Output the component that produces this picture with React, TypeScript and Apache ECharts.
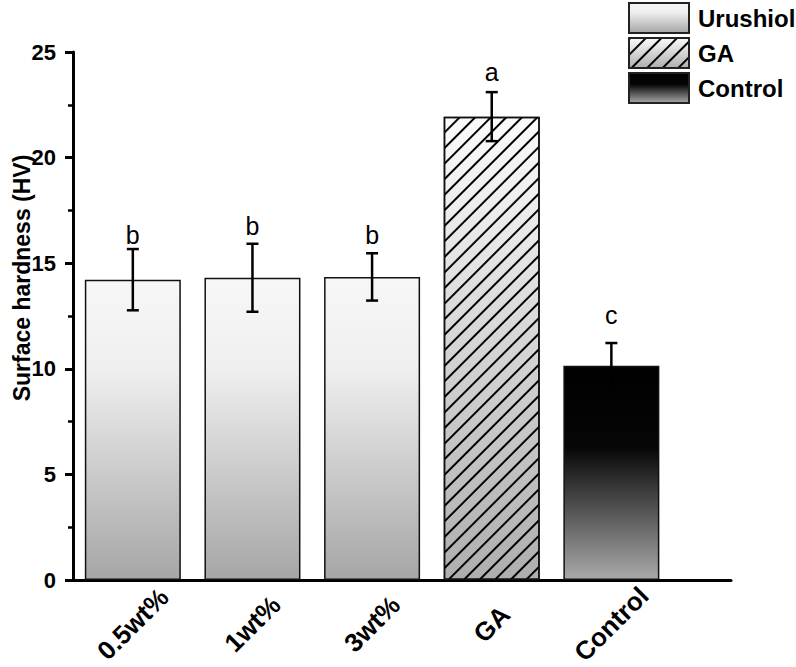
import React, { useEffect, useRef } from 'react';
import * as echarts from 'echarts';

const FONT = '"Liberation Sans", Arial, Helvetica, sans-serif';

const categories = ['0.5wt%', '1wt%', '3wt%', 'GA', 'Control'];
const hardness = [14.22, 14.31, 14.35, 21.94, 10.15];
const errors = [1.45, 1.61, 1.12, 1.16, 1.07];
const letters = ['b', 'b', 'b', 'a', 'c'];
const letterY = [15.75, 16.15, 15.75, 23.45, 11.95];
const groupOf = ['Urushiol', 'Urushiol', 'Urushiol', 'GA', 'Control'];
const groupNames = ['Urushiol', 'GA', 'Control'];

const grad = (stops: [number, string][]) =>
  new echarts.graphic.LinearGradient(0, 0, 0, 1, stops.map(([offset, color]) => ({ offset, color })));

export default function App() {
  const ref = useRef<HTMLDivElement>(null);
  useEffect(() => {
    const chart = echarts.init(ref.current!, null, { renderer: 'svg' });

    const styles: Record<string, any> = {
      Urushiol: {
        color: grad([[0, '#f7f7f7'], [0.3, '#efefef'], [1, '#a6a6a6']]),
        borderColor: '#111',
        borderWidth: 1.5,
      },
      GA: {
        color: grad([[0, '#fbfbfb'], [0.15, '#f0f0f0'], [1, '#aeaeae']]),
        borderColor: '#111',
        borderWidth: 1.5,
        decal: {
          symbol: 'rect',
          symbolSize: 1,
          color: '#000',
          dashArrayX: [1, 0],
          dashArrayY: [1.2, 8.8],
          rotation: -Math.PI / 4,
        },
      },
      Control: {
        color: grad([[0, '#000000'], [0.38, '#060606'], [1, '#a9a9a9']]),
        borderColor: '#111',
        borderWidth: 1.5,
      },
    };

    const barSeries = groupNames.map((g) => ({
      name: g,
      type: 'bar',
      barWidth: 96,
      barGap: '-100%',
      itemStyle: styles[g],
      data: categories
        .map((_, i) => (groupOf[i] === g ? [i + 0.5, hardness[i]] : null))
        .filter((d) => d !== null),
    }));

    const errData = categories.map((_, i) => [i + 0.5, hardness[i], errors[i], letterY[i]]);

    const option: any = {
      animation: false,
      backgroundColor: '#fff',
      grid: { left: 73, right: 65, top: 52, bottom: 87, containLabel: false, outerBoundsMode: 'none' },
      legend: {
        data: groupNames,
        orient: 'vertical',
        left: 628,
        top: 2,
        itemWidth: 60,
        itemHeight: 30,
        itemGap: 3,
        padding: 0,
        icon: 'rect',
        textStyle: { fontFamily: FONT, fontWeight: 'bold', fontSize: 24, color: '#000', padding: [0, 0, 0, 4] },
        itemStyle: { borderWidth: 2, borderColor: '#222' },
      },
      xAxis: {
        type: 'value',
        min: 0,
        max: 5.5,
        interval: 0.5,
        axisLine: { show: true, onZero: true, lineStyle: { color: '#000', width: 3 } },
        axisTick: { show: false },
        splitLine: { show: false },
        axisLabel: {
          formatter: (v: number) => {
            const i = v - 0.5;
            return Number.isInteger(i) && i >= 0 && i < categories.length ? categories[i] : '';
          },
          rotate: 45,
          align: 'center',
          verticalAlign: 'middle',
          margin: 44,
          fontFamily: FONT,
          fontWeight: 'bold',
          fontSize: 26,
          color: '#000',
        },
      },
      yAxis: {
        type: 'value',
        min: 0,
        max: 25,
        interval: 5,
        name: 'Surface hardness (HV)',
        nameLocation: 'middle',
        nameGap: 40,
        nameMoveOverlap: false,
        nameTextStyle: {
          fontFamily: FONT,
          fontWeight: 'bold',
          fontSize: 23,
          color: '#000',
          padding: [0, 0, 0, 76],
        },
        axisLine: { show: true, lineStyle: { color: '#000', width: 3 } },
        axisTick: { show: true, length: 8, lineStyle: { color: '#000', width: 3 } },
        minorTick: { show: true, splitNumber: 2, length: 5, lineStyle: { color: '#000', width: 2.5 } },
        splitLine: { show: false },
        minorSplitLine: { show: false },
        axisLabel: { fontFamily: FONT, fontWeight: 'bold', fontSize: 22, color: '#000', margin: 17 },
      },
      series: [
        ...barSeries,
        {
          name: 'err',
          type: 'custom',
          encode: { x: 0, y: 1 },
          z: 5,
          data: errData,
          renderItem: (params: any, api: any) => {
            const x = api.value(0);
            const m = api.value(1);
            const e = api.value(2);
            const ly = api.value(3);
            const top = api.coord([x, m + e]);
            const bot = api.coord([x, m - e]);
            const lab = api.coord([x, ly]);
            const half = 6;
            const ls = { stroke: '#000', lineWidth: 2.5 };
            return {
              type: 'group',
              children: [
                { type: 'line', shape: { x1: top[0], y1: top[1], x2: bot[0], y2: bot[1] }, style: ls },
                { type: 'line', shape: { x1: top[0] - half, y1: top[1], x2: top[0] + half, y2: top[1] }, style: ls },
                { type: 'line', shape: { x1: bot[0] - half, y1: bot[1], x2: bot[0] + half, y2: bot[1] }, style: ls },
                {
                  type: 'text',
                  x: lab[0],
                  y: lab[1],
                  style: {
                    text: letters[params.dataIndex],
                    align: 'center',
                    verticalAlign: 'bottom',
                    fontFamily: FONT,
                    fontSize: 25,
                    fill: '#000',
                  },
                },
              ],
            };
          },
        },
      ],
    };

    chart.setOption(option);
    return () => chart.dispose();
  }, []);
  return <div ref={ref} style={{ position: 'fixed', left: 0, top: 0, width: 796, height: 667 }} />;
}
